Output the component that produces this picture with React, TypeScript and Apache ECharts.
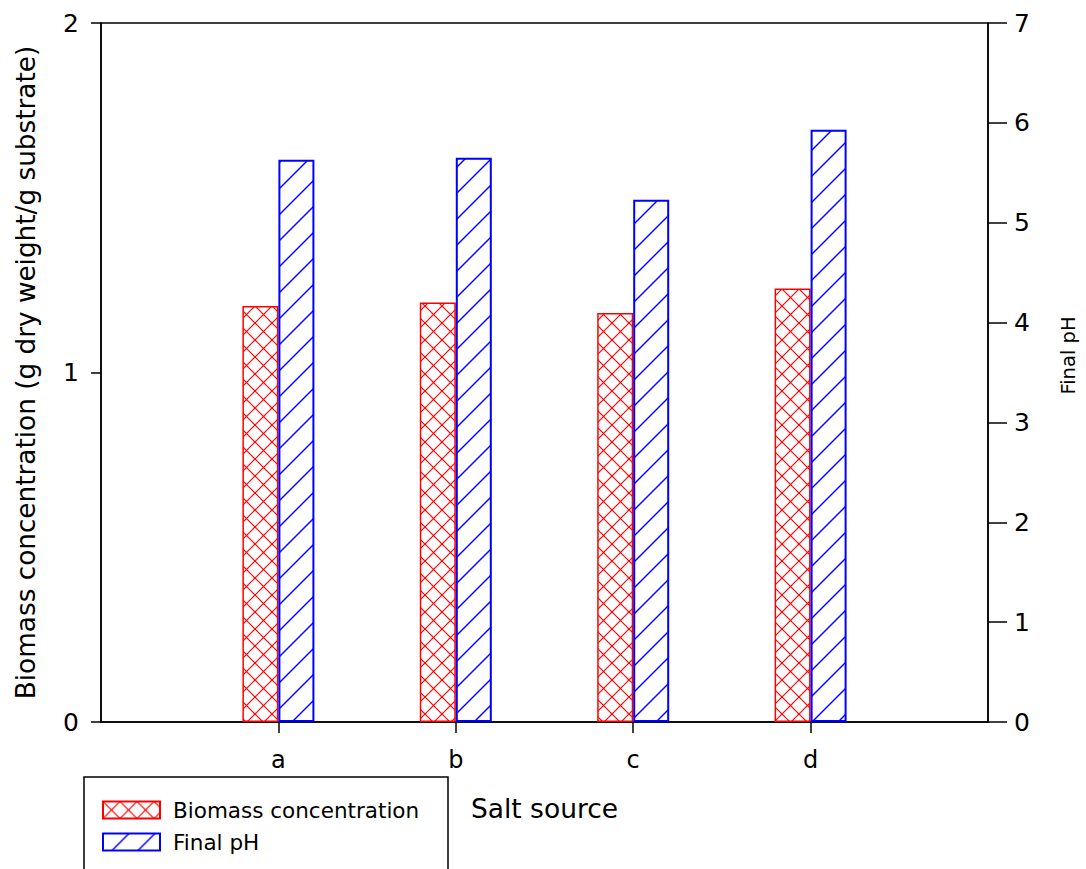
import React, { useEffect, useRef } from "react";
import * as echarts from "echarts";

// Salt sources on the x axis
const categories = ["a", "b", "c", "d"];
// Biomass concentration, g dry weight / g substrate (left axis)
const biomass = [1.19, 1.2, 1.17, 1.24];
// Final pH (right axis)
const finalPH = [5.63, 5.65, 5.23, 5.93];
// Tick values
const leftTicks = [0, 1, 2];
const rightTicks = [0, 1, 2, 3, 4, 5, 6, 7];

const FONT = "DejaVu Sans";

// Cross-hatch tile (both diagonals)
function crossHatch(color: string, size: number) {
  const c = document.createElement("canvas");
  c.width = size;
  c.height = size;
  const g = c.getContext("2d")!;
  g.fillStyle = "#ffffff";
  g.fillRect(0, 0, size, size);
  g.strokeStyle = color;
  g.lineWidth = 1.2;
  for (const off of [-size, 0, size]) {
    g.beginPath();
    g.moveTo(off - 1, -1);
    g.lineTo(off + size + 1, size + 1);
    g.stroke();
    g.beginPath();
    g.moveTo(off - 1, size + 1);
    g.lineTo(off + size + 1, -1);
    g.stroke();
  }
  return { image: c, repeat: "repeat", imageWidth: size, imageHeight: size } as any;
}

// Forward-slash hatch tile
function slashHatch(color: string, size: number) {
  const c = document.createElement("canvas");
  c.width = size;
  c.height = size;
  const g = c.getContext("2d")!;
  g.fillStyle = "#ffffff";
  g.fillRect(0, 0, size, size);
  g.strokeStyle = color;
  g.lineWidth = 1.4;
  for (const off of [-size, 0, size]) {
    g.beginPath();
    g.moveTo(off - 1, size + 1);
    g.lineTo(off + size + 1, -1);
    g.stroke();
  }
  return { image: c, repeat: "repeat", imageWidth: size, imageHeight: size } as any;
}

export default function App() {
  const ref = useRef<HTMLDivElement>(null);

  useEffect(() => {
    if (!ref.current) return;
    const chart = echarts.init(ref.current, undefined, { renderer: "svg" });

    const axisData = ["", ...categories, ""];
    const pad = (arr: number[]) => [null, ...arr, null];
    const showInner = (i: number) => i >= 1 && i <= categories.length;

    const red = "#ff0000";
    const blue = "#0000ff";

    chart.setOption({
      animation: false,
      backgroundColor: "#ffffff",
      textStyle: { fontFamily: FONT, color: "#000" },
      grid: {
        left: 101,
        right: 94,
        top: 23,
        bottom: 147,
        show: true,
        borderColor: "#000",
        borderWidth: 1.5,
        backgroundColor: "transparent",
      },
      legend: {
        orient: "vertical",
        left: 84,
        top: 777,
        height: 200,
        icon: "rect",
        itemWidth: 57,
        itemHeight: 17,
        itemGap: 10,
        padding: [22, 25, 60, 18],
        borderColor: "#000",
        borderWidth: 1.5,
        backgroundColor: "#fff",
        textStyle: {
          fontFamily: FONT,
          fontSize: 21.5,
          color: "#000",
          padding: [0, 0, 0, 8],
          width: 250,
          lineHeight: 22,
        },
        data: ["Biomass concentration", "Final pH"],
      },
      xAxis: {
        type: "category",
        data: axisData,
        boundaryGap: false,
        name: "Salt source",
        nameLocation: "middle",
        nameGap: 73,
        nameTextStyle: { fontFamily: FONT, fontSize: 26.5, color: "#000" },
        axisLine: { lineStyle: { color: "#000", width: 1.5 } },
        axisTick: {
          show: true,
          length: 11,
          interval: (i: number) => showInner(i),
          lineStyle: { color: "#000", width: 1.5 },
        },
        axisLabel: {
          interval: (i: number) => showInner(i),
          fontFamily: FONT,
          fontSize: 24,
          color: "#000",
          margin: 26,
        },
        splitLine: { show: false },
      },
      yAxis: [
        {
          type: "value",
          min: leftTicks[0],
          max: leftTicks[leftTicks.length - 1],
          interval: 1,
          position: "left",
          name: "Biomass concentration (g dry weight/g substrate)",
          nameLocation: "middle",
          nameRotate: 90,
          nameGap: 62,
          nameTextStyle: { fontFamily: FONT, fontSize: 26.3, color: "#000" },
          axisLine: { show: true, lineStyle: { color: "#000", width: 1.5 } },
          axisTick: { show: true, length: 10, lineStyle: { color: "#000", width: 1.5 } },
          axisLabel: { fontFamily: FONT, fontSize: 25, color: "#000", margin: 22 },
          splitLine: { show: false },
        },
        {
          type: "value",
          min: rightTicks[0],
          max: rightTicks[rightTicks.length - 1],
          interval: 1,
          position: "right",
          name: "Final pH",
          nameLocation: "middle",
          nameRotate: 90,
          nameGap: 70,
          nameTextStyle: {
            fontFamily: FONT,
            fontSize: 19.5,
            color: "#000",
            padding: [0, 0, 0, 34],
          },
          axisLine: { show: true, lineStyle: { color: "#000", width: 1.5 } },
          axisTick: { show: true, length: 19, lineStyle: { color: "#000", width: 1.5 } },
          axisLabel: { fontFamily: FONT, fontSize: 25, color: "#000", margin: 26 },
          splitLine: { show: false },
        },
      ],
      series: [
        {
          name: "Biomass concentration",
          type: "bar",
          yAxisIndex: 0,
          barWidth: 36,
          barGap: "0%",
          data: pad(biomass),
          itemStyle: {
            color: crossHatch(red, 17),
            borderColor: red,
            borderWidth: 1.5,
          },
        },
        {
          name: "Final pH",
          type: "bar",
          yAxisIndex: 1,
          barWidth: 36,
          barGap: "0%",
          data: pad(finalPH),
          itemStyle: {
            color: slashHatch(blue, 26),
            borderColor: blue,
            borderWidth: 2,
          },
        },
      ],
    });

    return () => chart.dispose();
  }, []);

  return (
    <div
      ref={ref}
      style={{ position: "fixed", left: 0, top: 0, width: 1086, height: 869 }}
    />
  );
}
